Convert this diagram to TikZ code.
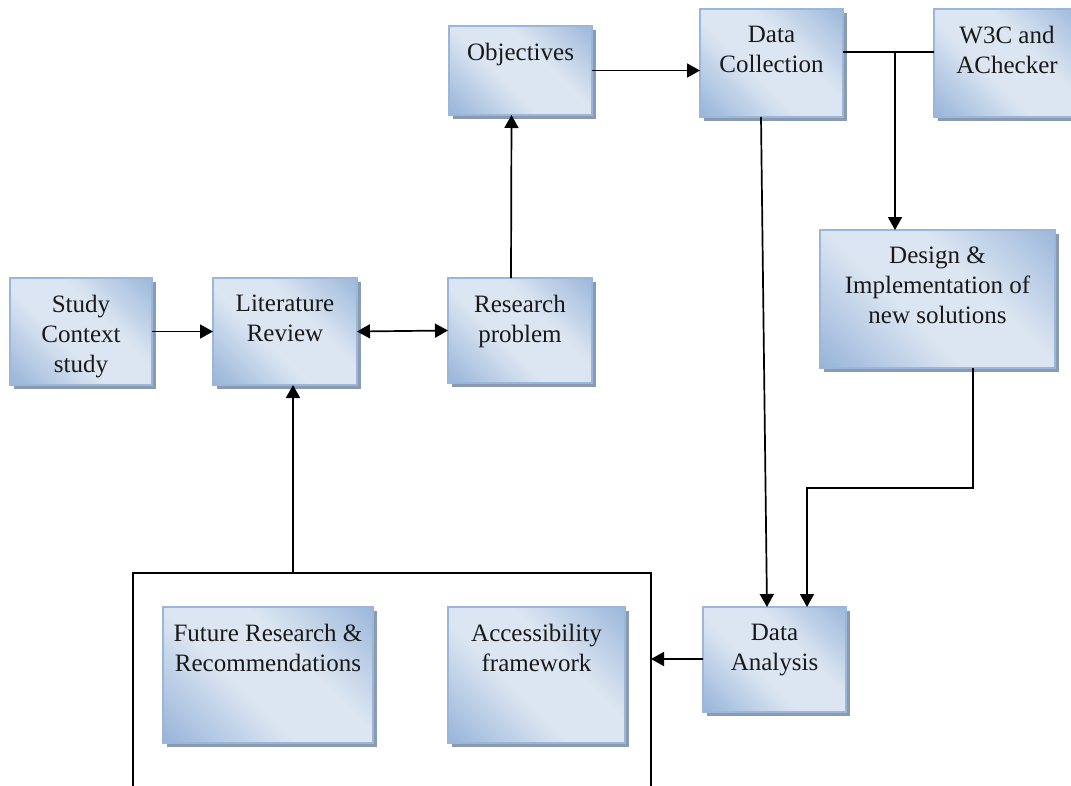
\documentclass[tikz,border=0pt]{standalone}
\usepackage{fontspec}
\setmainfont{Liberation Serif}
\usetikzlibrary{arrows.meta,shadows,calc}
\definecolor{boxdark}{HTML}{90AFD6}
\definecolor{boxlight}{HTML}{DCE6F2}
\definecolor{boxedge}{HTML}{9AB6DA}
\definecolor{shadowgray}{HTML}{8C9AAD}
\pgfdeclarehorizontalshading{boxshade}{100bp}{color(0bp)=(boxdark); color(12bp)=(boxdark); color(42bp)=(boxlight); color(60bp)=(boxlight); color(90bp)=(boxdark); color(100bp)=(boxdark)}
\begin{document}
\begin{tikzpicture}[x=1pt,y=-1pt,
  box/.style={rectangle, draw=boxedge, line width=1.5pt, inner sep=0pt, outer sep=0pt,
    shading=boxshade, shading angle=45,
    drop shadow={shadow xshift=4pt, shadow yshift=-4pt, fill=shadowgray, opacity=1},
    anchor=north west},
  txt/.style={align=center, inner sep=0pt, anchor=north, font=\fontsize{25}{30}\selectfont, text=black!90},
  conn/.style={line width=1.7pt, draw=black},
  arr/.style={conn, -{Triangle[length=13pt,width=14pt]}},
  darr/.style={conn, {Triangle[length=13pt,width=14pt]}-{Triangle[length=13pt,width=14pt]}}
]
\useasboundingbox (0,0) rectangle (1071,785);
\clip (0,0) rectangle (1071,785);

% boxes
\node[box, minimum width=142pt, minimum height=107pt] (study) at (10,278) {};
\node[box, minimum width=144pt, minimum height=107pt] (lit) at (213,278) {};
\node[box, minimum width=144pt, minimum height=105pt] (rp) at (448,278) {};
\node[box, minimum width=143pt, minimum height=89pt] (obj) at (449,26) {};
\node[box, minimum width=143pt, minimum height=108pt] (dc) at (700,9) {};
\node[box, minimum width=146pt, minimum height=108pt] (w3c) at (934,9) {};
\node[box, minimum width=235pt, minimum height=138pt] (des) at (820,230) {};
\node[box, minimum width=143pt, minimum height=105pt] (da) at (703,607) {};
\node[box, minimum width=210pt, minimum height=136pt] (fut) at (163,607) {};
\node[box, minimum width=177pt, minimum height=136pt] (acc) at (448,607) {};

% texts
\node[txt] (studyT) at ([yshift=-16.5pt]study.north) {Study\\Context\\study};
\node[txt] (litT) at ([yshift=-16.5pt]lit.north) {Literature\\Review};
\node[txt] (rpT) at ([yshift=-16.5pt]rp.north) {Research\\problem};
\node[txt] (objT) at ([yshift=-17pt]obj.north) {Objectives};
\node[txt] (dcT) at ([yshift=-16.5pt]dc.north) {Data\\Collection};
\node[txt] (w3cT) at ([yshift=-16.5pt]w3c.north) {W3C and\\AChecker};
\node[txt] (desT) at ([yshift=-16.5pt]des.north) {Design \&\\Implementation of\\new solutions};
\node[txt] (daT) at ([yshift=-16.5pt]da.north) {Data\\Analysis};
\node[txt] (futT) at ([yshift=-16.5pt]fut.north) {Future Research \&\\Recommendations};
\node[txt] (accT) at ([yshift=-16.5pt]acc.north) {Accessibility\\framework};

% open frame around outcome boxes
\draw[conn] (133,790) -- (133,573) -- (651,573) -- (651,790);
\coordinate (frameTop) at (293,573);
\coordinate (frameRight) at (651,659);
\coordinate (tap) at (895,52);

% connectors
\draw[arr] (study.east) -- (lit.west);
\draw[darr] (lit.east) -- (rp.west);
\draw[arr] ([xshift=-9pt]rp.north) -- ([xshift=-9pt]obj.south);
\draw[arr] (obj.east) -- (obj.east -| dc.west);
\draw[conn] ([yshift=11pt]dc.east) -- ([yshift=11pt]w3c.west);
\draw[arr] (tap) -- (tap |- des.north);
\draw[arr] ([xshift=-10.5pt]dc.south) -- ([xshift=-7.5pt]da.north);
\draw[arr] ([xshift=35.5pt]des.south) -- ++(0,120) -| ([xshift=32.5pt]da.north);
\draw[arr] (da.west |- frameRight) -- (frameRight);
\draw[arr] (frameTop) -- (frameTop |- lit.south);
\end{tikzpicture}
\end{document}
